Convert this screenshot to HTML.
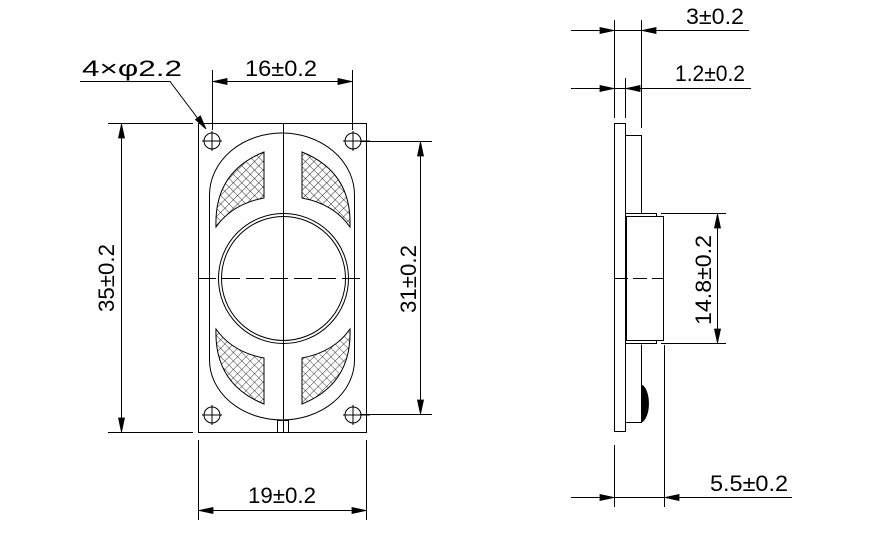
<!DOCTYPE html>
<html><head><meta charset="utf-8"><style>
html,body{margin:0;padding:0;background:#fff;}
svg{display:block;}
text{font-family:"Liberation Sans",sans-serif;font-size:22px;fill:#000;}
</style></head><body>
<svg width="873" height="552" viewBox="0 0 873 552" xmlns="http://www.w3.org/2000/svg">
<defs>
<pattern id="h" width="6" height="6" patternUnits="userSpaceOnUse" patternTransform="rotate(45)">
<path d="M0 0V6M0 0H6" stroke="#000" stroke-width="0.8"/>
</pattern>
</defs>
<g fill="none" stroke="#000" stroke-width="1">
<rect x="198.5" y="123.5" width="168" height="309"/>
<path d="M209.5 195 A72.5 62 0 0 1 354.5 195 V360 A72.5 60 0 0 1 209.5 360 Z"/>
<line x1="283.5" y1="123" x2="283.5" y2="432"/>
<line x1="198" y1="278.5" x2="366" y2="278.5" stroke-dasharray="18,6"/>
<circle cx="283.5" cy="278.5" r="65"/>
<circle cx="283.5" cy="278.5" r="62"/>
<rect x="277.5" y="420.5" width="11" height="12"/>
<line x1="283.5" y1="420" x2="283.5" y2="432"/>
<g>
<circle cx="212" cy="141" r="8"/><path d="M202 141H222M212 131V151"/>
<circle cx="353" cy="141" r="8"/><path d="M343 141H370M353 131V151"/>
<circle cx="212" cy="415" r="8"/><path d="M202 415H222M212 405V425"/>
<circle cx="353" cy="415" r="8"/><path d="M343 415H370M353 405V425"/>
</g>
<g fill="url(#h)">
<path d="M264 152 V198 Q232 204 216 227 Q214 172 264 152 Z"/>
<path d="M302 152 V198 Q334 204 350 227 Q352 172 302 152 Z"/>
<path d="M264 404 V358 Q232 352 216 329 Q214 384 264 404 Z"/>
<path d="M302 404 V358 Q334 352 350 329 Q352 384 302 404 Z"/>
</g>
<line x1="212.5" y1="70" x2="212.5" y2="130"/>
<line x1="352.5" y1="70" x2="352.5" y2="130"/>
<line x1="213" y1="81.5" x2="352" y2="81.5"/>
<path d="M80 81.5H170L205 128"/>
<line x1="108" y1="123.5" x2="193" y2="123.5"/>
<line x1="108" y1="432.5" x2="193" y2="432.5"/>
<line x1="121.5" y1="124" x2="121.5" y2="432"/>
<line x1="360" y1="141.5" x2="432" y2="141.5"/>
<line x1="360" y1="414.5" x2="432" y2="414.5"/>
<line x1="420.5" y1="142" x2="420.5" y2="414"/>
<line x1="198.5" y1="440" x2="198.5" y2="520"/>
<line x1="366.5" y1="440" x2="366.5" y2="520"/>
<line x1="199" y1="510.5" x2="366" y2="510.5"/>
<rect x="614.5" y="123.5" width="11" height="308"/>
<path d="M625.5 135.5H641.5V213.5M625.5 422.5H641.5V344.5"/>
<rect x="625.5" y="213.5" width="31" height="3"/>
<rect x="625.5" y="340.5" width="31" height="3"/>
<rect x="626.5" y="216.5" width="37" height="124"/>
<line x1="614" y1="278.5" x2="664" y2="278.5" stroke-dasharray="14,5"/>
<path d="M641.5 385 A9 19 0 0 1 641.5 422 Z" fill="#000"/>
<line x1="614.5" y1="20" x2="614.5" y2="118"/>
<line x1="641.5" y1="20" x2="641.5" y2="128"/>
<line x1="625.5" y1="78" x2="625.5" y2="118"/>
<line x1="571" y1="30.5" x2="749" y2="30.5"/>
<line x1="571" y1="88.5" x2="751" y2="88.5"/>
<line x1="661" y1="213.5" x2="726" y2="213.5"/>
<line x1="661" y1="343.5" x2="726" y2="343.5"/>
<line x1="717.5" y1="214" x2="717.5" y2="343"/>
<line x1="614.5" y1="445" x2="614.5" y2="507"/>
<line x1="664.5" y1="345" x2="664.5" y2="507"/>
<line x1="571" y1="497.5" x2="792" y2="497.5"/>
</g>
<g fill="#000" stroke="#000" stroke-width="0.8">
<polygon points="213,81.5 227,78.5 227,84.5"/>
<polygon points="352,81.5 338,78.5 338,84.5"/>
<polygon points="206,129 195.5,119.5 200.3,115.9"/>
<polygon points="121.5,124 118.5,138 124.5,138"/>
<polygon points="121.5,432 118.5,418 124.5,418"/>
<polygon points="420.5,142 417.5,156 423.5,156"/>
<polygon points="420.5,414 417.5,400 423.5,400"/>
<polygon points="199,510.5 213,507.5 213,513.5"/>
<polygon points="366,510.5 352,507.5 352,513.5"/>
<polygon points="614,30.5 600,27.5 600,33.5"/>
<polygon points="642,30.5 656,27.5 656,33.5"/>
<polygon points="614,88.5 600,85.5 600,91.5"/>
<polygon points="626,88.5 640,85.5 640,91.5"/>
<polygon points="717.5,214 714.5,228 720.5,228"/>
<polygon points="717.5,343 714.5,329 720.5,329"/>
<polygon points="614,497.5 600,494.5 600,500.5"/>
<polygon points="665,497.5 679,494.5 679,500.5"/>
</g>
<g>
<text x="82" y="76" textLength="100" lengthAdjust="spacingAndGlyphs">4×φ2.2</text>
<text x="245" y="76" textLength="72" lengthAdjust="spacingAndGlyphs">16±0.2</text>
<text x="248" y="503" textLength="68" lengthAdjust="spacingAndGlyphs">19±0.2</text>
<text transform="translate(114,312) rotate(-90)" textLength="68" lengthAdjust="spacingAndGlyphs">35±0.2</text>
<text transform="translate(416,313) rotate(-90)" textLength="68" lengthAdjust="spacingAndGlyphs">31±0.2</text>
<text transform="translate(711,325) rotate(-90)" textLength="90" lengthAdjust="spacingAndGlyphs">14.8±0.2</text>
<text x="686" y="24" textLength="58" lengthAdjust="spacingAndGlyphs">3±0.2</text>
<text x="675" y="81" textLength="70" lengthAdjust="spacingAndGlyphs">1.2±0.2</text>
<text x="710" y="491" textLength="78" lengthAdjust="spacingAndGlyphs">5.5±0.2</text>
</g>
</svg>
</body></html>
